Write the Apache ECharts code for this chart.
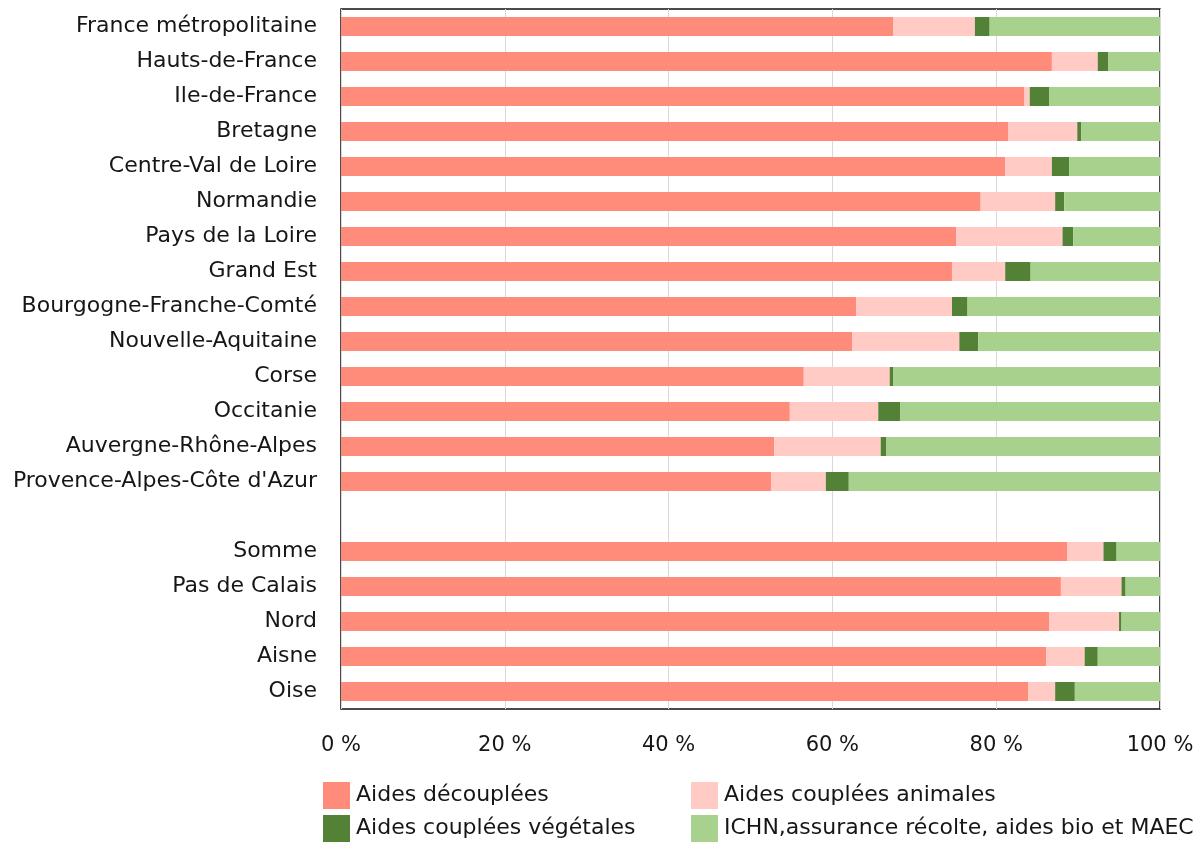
<!DOCTYPE html>
<html>
<head>
<meta charset="utf-8">
<script src="https://cdn.jsdelivr.net/npm/echarts@6/dist/echarts.min.js"></script>
<style>
html,body{margin:0;padding:0;background:#fff;}
#chart{width:1200px;height:843px;}
</style>
</head>
<body>
<div id="chart"></div>
<script>
const categories = ["France métropolitaine","Hauts-de-France","Ile-de-France","Bretagne","Centre-Val de Loire","Normandie","Pays de la Loire","Grand Est","Bourgogne-Franche-Comté","Nouvelle-Aquitaine","Corse","Occitanie","Auvergne-Rhône-Alpes","Provence-Alpes-Côte d'Azur","","Somme","Pas de Calais","Nord","Aisne","Oise"];
const seriesNames = ["Aides découplées","Aides couplées animales","Aides couplées végétales","ICHN,assurance récolte, aides bio et MAEC"];
const aidesDecouplees = [67.4,86.8,83.4,81.5,81.1,78.1,75.1,74.6,62.9,62.4,56.5,54.8,52.9,52.5,null,88.7,87.9,86.5,86.1,83.9];
const aidesAnimales   = [10.0,5.6,0.7,8.4,5.7,9.1,13.0,6.5,11.7,13.1,10.5,10.8,13.0,6.7,null,4.4,7.4,8.5,4.7,3.3];
const aidesVegetales  = [1.8,1.3,2.4,0.5,2.1,1.1,1.3,3.1,1.9,2.3,0.4,2.7,0.7,2.8,null,1.6,0.5,0.3,1.6,2.4];
const ichnAutres      = [20.8,6.3,13.5,9.6,11.1,11.7,10.6,15.8,23.5,22.2,32.6,31.7,33.4,38.0,null,5.3,4.2,4.7,7.6,10.4];
const xTicks = [0,20,40,60,80,100];

const colors = ["#FF8B7B","#FFCBC4","#538135","#A9D18E"];
const seriesData = [aidesDecouplees, aidesAnimales, aidesVegetales, ichnAutres];
const font = "DejaVu Sans";
const legendPos = [[323,782],[691,782],[323,815],[691,815]];

const chart = echarts.init(document.getElementById('chart'));
chart.setOption({
  animation: false,
  textStyle: {fontFamily: font},
  grid: {left: 341, right: 40, top: 9, bottom: 134, show: true, borderColor: '#111', borderWidth: 1.5, backgroundColor: '#fff'},
  xAxis: {
    type: 'value', min: xTicks[0], max: xTicks[xTicks.length-1], interval: 20,
    axisLine: {show: false}, axisTick: {show: false},
    splitLine: {show: true, lineStyle: {color: '#d9d9d9', width: 1}},
    axisLabel: {formatter: '{value} %', fontSize: 21, color: '#161616', margin: 26, fontFamily: font}
  },
  yAxis: {
    type: 'category', data: categories, inverse: true,
    axisLine: {show: false}, axisTick: {show: false},
    axisLabel: {fontSize: 22, color: '#161616', margin: 24, fontFamily: font, padding: [8,0,0,0]}
  },
  legend: seriesNames.map((n, i) => ({
    left: legendPos[i][0], top: legendPos[i][1], padding: 0,
    itemWidth: 27, itemHeight: 27, itemGap: 0, icon: 'rect',
    data: [n],
    textStyle: {fontSize: 22, color: '#161616', fontFamily: font, padding: [6,0,0,1]}
  })),
  series: seriesNames.map((n, i) => ({
    name: n, type: 'bar', stack: 'total', data: seriesData[i],
    barWidth: 19,
    itemStyle: {color: colors[i]}
  }))
});
</script>
</body>
</html>
